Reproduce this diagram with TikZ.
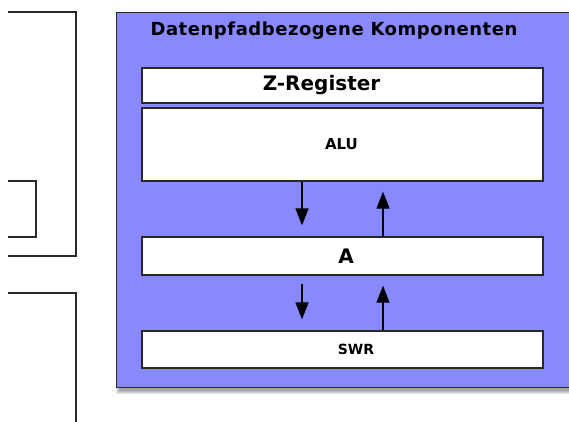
\documentclass[tikz,border=0pt]{standalone}
\usepackage{fontspec}
\setmainfont{DejaVu Sans}
\newfontfamily\spacedfont{DejaVu Sans}[LetterSpace=3]
\usetikzlibrary{arrows.meta, shadows.blur, positioning}
\definecolor{datapathcolor}{RGB}{136,136,255}
\definecolor{edgecolor}{RGB}{40,40,40}

\begin{document}
\begin{tikzpicture}[
    x=1pt, y=-1pt,
    group/.style={draw=edgecolor, fill=datapathcolor, line width=1.3pt, anchor=north west, inner sep=0pt,
        blur shadow={shadow xshift=1pt, shadow yshift=-5pt, shadow blur steps=6, shadow opacity=35}},
    unit/.style={draw=edgecolor, fill=white, line width=1.3pt, minimum width=401pt, inner sep=0pt},
    unittext/.style={font=\bfseries, inner sep=0pt},
    flow/.style={-{Triangle[length=17pt, width=13pt]}, line width=1.3pt},
    outline/.style={draw=edgecolor, line width=1.3pt}
]
    \useasboundingbox (0,0) rectangle (569,421);
    \clip (0,0) rectangle (569,421);

    % Neighbouring blocks (cut off)
    \draw[outline] (8,12) -- (76,12) -- (76,256) -- (8,256);
    \draw[outline] (8,181) -- (36,181) -- (36,237) -- (8,237);
    \draw[outline] (8,293) -- (76,293) -- (76,430);

    % Group
    \node[group, minimum width=500pt, minimum height=375pt] (dpk) at (116,12) {};
    \node[unittext, font=\spacedfont\bfseries\fontsize{18}{18}\selectfont] (title) at (334,31) {Datenpfadbezogene Komponenten};

    % Units
    \node[unit, minimum height=35pt] (zreg) at (342.5,85.5) {};
    \node[unit, minimum height=73pt] (alu) at (342.5,144.5) {};
    \node[unit, minimum height=38pt] (akku) at (342.5,256) {};
    \node[unit, minimum height=37pt] (swr) at (342.5,349.5) {};

    \node[unittext, font=\bfseries\fontsize{20}{20}\selectfont] (zregtext) at ([xshift=-21pt]zreg.center) {Z-Register};
    \node[unittext, font=\bfseries\fontsize{15}{15}\selectfont] (alutext) at ([xshift=-1pt]alu.center) {ALU};
    \node[unittext, font=\bfseries\fontsize{20}{20}\selectfont] (akkutext) at ([xshift=3.5pt]akku.center) {A};
    \node[unittext, font=\bfseries\fontsize{14}{14}\selectfont] (swrtext) at ([xshift=13.5pt]swr.center) {SWR};

    % Data flow
    \draw[flow, shorten >=11pt] ([xshift=-40.5pt]alu.south) -- ([xshift=-40.5pt]akku.north);
    \draw[flow, shorten >=10pt] ([xshift=40.5pt]akku.north) -- ([xshift=40.5pt]alu.south);
    \draw[flow, shorten <=8pt, shorten >=11pt] ([xshift=-40.5pt]akku.south) -- ([xshift=-40.5pt]swr.north);
    \draw[flow, shorten >=10pt] ([xshift=40.5pt]swr.north) -- ([xshift=40.5pt]akku.south);
\end{tikzpicture}
\end{document}
